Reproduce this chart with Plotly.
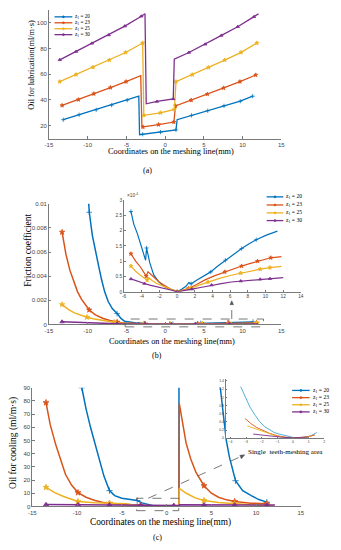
import numpy as np
import plotly.graph_objects as go

W, H = 341, 550

Z_VALUES = [20, 23, 25, 30]
COLORS = ['#0072BD', '#D95319', '#EDB120', '#7E2F8E']
SYMBOLS = ['cross-thin-open', 'star', 'star', 'triangle-up']

# ---------------- (a) Oil for lubrication ----------------
a_x_20 = [-13.15, -11.1, -8.9, -6.9, -4.9, -3.4, -3.3, -2.9, -0.6, 1.4, 1.55, 3.4, 5.5, 7.6, 9.7, 11.3]
a_y_20 = [24.6, 28.5, 32.3, 36.0, 39.8, 43.0, 13.0, 13.3, 15.0, 16.7, 24.6, 28.0, 31.6, 35.4, 39.0, 42.9]
a_mk_20 = [0, 1, 2, 3, 4, 7, 8, 9, 11, 12, 13, 14, 15]

a_x_23 = [-13.3, -11.2, -9.2, -7.06, -5.04, -3.15, -3.0, -2.86, -0.84, 1.13, 1.34, 3.36, 5.46, 7.56, 9.66, 11.7]
a_y_23 = [35.7, 40.2, 44.8, 49.6, 54.2, 58.8, 19.0, 19.0, 20.8, 22.8, 35.4, 39.8, 44.5, 49.3, 54.2, 59.4]
a_mk_23 = [0, 1, 2, 3, 4, 7, 8, 9, 10, 11, 12, 13, 14, 15]

a_x_25 = [-13.6, -11.5, -9.3, -7.2, -5.1, -2.9, -2.75, -0.6, 1.2, 1.4, 3.5, 5.6, 7.7, 9.8, 11.85]
a_y_25 = [54.2, 59.7, 65.4, 71.0, 76.9, 84.3, 28.0, 30.0, 32.6, 54.2, 59.6, 65.2, 71.0, 77.0, 84.3]
a_mk_25 = [0, 1, 2, 3, 4, 5, 6, 7, 8, 9, 10, 11, 12, 13, 14]

a_x_30 = [-13.6, -11.5, -9.45, -7.27, -5.2, -3.07, -2.6, -2.44, -1.05, 1.05, 1.18, 3.07, 5.17, 7.27, 9.37, 11.47, 12.06]
a_y_30 = [71.2, 77.6, 84.0, 90.5, 97.4, 105.1, 107.0, 37.0, 38.8, 40.8, 71.7, 76.9, 83.3, 90.2, 96.9, 104.6, 107.0]
a_mk_30 = [0, 1, 2, 3, 4, 5, 8, 9, 11, 12, 13, 14, 15]

# ---------------- (b) Friction coefficient ----------------
b_x_20 = [-9.87, -9.79, -9.4, -9.0, -8.6, -8.2, -7.8, -7.35, -6.8, -6.2, -5.7,
          -5.23, -4.9, -4.49, -4.1, -3.8, -3.57, -3.46, -3.1, -2.65, -2.1, -1.55, -0.9, -0.25, 0.0,
          0.5, 1.0, 1.33, 1.59, 2.2, 3.0, 3.8, 4.6, 5.46, 6.4, 7.3, 8.1, 8.95, 10.1, 11.35]
b_y_20 = [101e-4, 93e-4, 74e-4, 60e-4, 49e-4, 37e-4, 27e-4, 19e-4, 13e-4, 9e-4, 5e-4,
          2.62e-4, 2.2e-4, 1.89e-4, 1.55e-4, 1.25e-4, 1.03e-4, 1.43e-4, 0.95e-4, 0.55e-4, 0.33e-4, 0.19e-4, 0.09e-4, 0.04e-4, 0.0,
          0.08e-4, 0.18e-4, 0.30e-4, 0.26e-4, 0.38e-4, 0.52e-4, 0.65e-4, 0.84e-4, 1.03e-4, 1.22e-4, 1.41e-4, 1.56e-4, 1.70e-4, 1.85e-4, 1.98e-4]

b_x_23 = [-13.3, -12.8, -12.3, -11.8, -11.3, -10.8, -10.3, -9.8, -9.0, -8.0, -7.1, -6.2, -5.7,
          -5.23, -4.7, -4.15, -3.75, -3.5, -3.3, -3.0, -2.6, -2.0, -1.5, -0.8, 0.0,
          0.6, 1.3, 2.2, 3.1, 4.2, 5.4, 6.4, 7.3, 8.2, 9.1, 10.0, 10.6, 11.8]
b_y_23 = [76.5e-4, 58e-4, 45e-4, 35e-4, 27e-4, 21e-4, 16e-4, 12e-4, 8e-4, 5e-4, 3.3e-4, 2.0e-4, 1.5e-4,
          1.24e-4, 1.0e-4, 0.81e-4, 0.64e-4, 0.51e-4, 0.65e-4, 0.57e-4, 0.46e-4, 0.31e-4, 0.22e-4, 0.10e-4, 0.0,
          0.05e-4, 0.11e-4, 0.24e-4, 0.38e-4, 0.52e-4, 0.65e-4, 0.75e-4, 0.84e-4, 0.92e-4, 1.0e-4, 1.06e-4, 1.11e-4, 1.15e-4]

b_x_25 = [-13.3, -12.5, -11.7, -10.9, -10.1, -9.3, -8.4, -7.5, -6.6, -5.7,
          -5.23, -4.7, -4.15, -3.7, -3.4, -3.2, -2.8, -2.3, -1.7, -1.2, -0.6, 0.0,
          0.7, 1.5, 2.5, 3.5, 4.8, 6.1, 7.2, 8.3, 9.4, 10.5, 11.8]
b_y_25 = [16.5e-4, 12.5e-4, 9.6e-4, 7.6e-4, 6.0e-4, 4.8e-4, 3.6e-4, 2.6e-4, 1.8e-4, 1.1e-4,
          0.84e-4, 0.67e-4, 0.54e-4, 0.45e-4, 0.38e-4, 0.46e-4, 0.36e-4, 0.27e-4, 0.19e-4, 0.14e-4, 0.07e-4, 0.0,
          0.05e-4, 0.11e-4, 0.22e-4, 0.32e-4, 0.44e-4, 0.54e-4, 0.61e-4, 0.68e-4, 0.74e-4, 0.79e-4, 0.83e-4]

b_x_30 = [-13.3, -12.0, -10.5, -9.0, -7.5, -6.2,
          -5.23, -4.5, -3.7, -3.1, -2.6, -1.9, -1.2, -0.6, 0.0,
          0.8, 1.66, 2.8, 3.9, 5.0, 6.1, 7.2, 8.3, 9.4, 10.5, 12.0]
b_y_30 = [2.2e-4, 1.8e-4, 1.4e-4, 1.05e-4, 0.75e-4, 0.55e-4,
          0.42e-4, 0.34e-4, 0.27e-4, 0.22e-4, 0.19e-4, 0.14e-4, 0.10e-4, 0.05e-4, 0.0,
          0.05e-4, 0.09e-4, 0.15e-4, 0.22e-4, 0.27e-4, 0.32e-4, 0.35e-4, 0.38e-4, 0.41e-4, 0.43e-4, 0.46e-4]

b_main_marker_grid = [-13.3, -9.8, -6.2, -2.7, 0.8, 4.3, 7.8, 11.3]
b_inset_marker_grid = [-5.2, -3.45, 0.0, 1.6, 3.6, 5.5, 7.3, 9.1, 10.8]
b_inset_xmin = -5.3

# ---------------- (c) Oil for cooling ----------------
c_x_20 = [-9.47, -9.0, -8.5, -8.0, -7.5, -7.0, -6.38, -5.8, -5.0, -4.2, -3.28, -2.75, -2.1, -1.5, -0.9, 0.0, 0.8, 1.38,
          1.42, 2.5, 3.5, 4.5, 5.0, 5.5, 6.0, 6.67, 7.0, 7.7, 8.5, 9.46, 10.3, 11.2]
c_y_20 = [90, 74, 60, 47, 34, 23, 12, 8.2, 6.2, 5.2, 4.5, 2.7, 1.4, 0.6, 0.25, 0.0, 0.05, 0.4,
          1500, 1000, 600, 330, 217, 140, 90, 50, 38, 19.5, 12, 8.25, 5.2, 3.25]

c_x_23 = [-13.47, -13.0, -12.38, -11.8, -11.29, -10.6, -9.9, -9.0, -8.0, -7.2, -6.38, -5.0, -4.0, -2.9, -2.0, -1.0, 0.0, 0.8, 1.38,
          1.42, 1.8, 2.18, 2.7, 3.27, 4.18, 5.0, 5.8, 6.7, 7.6, 9.4, 11.2]
c_y_23 = [78.75, 62, 46.7, 34, 24.2, 16, 10.5, 7, 4.5, 3.2, 2.25, 1.7, 1.4, 0.6, 0.25, 0.08, 0.0, 0.05, 0.2,
          78, 62, 48, 36, 26, 15.75, 10, 7, 5, 3.75, 2.5, 2.0]

c_x_25 = [-13.47, -12.5, -11.5, -9.9, -8.0, -6.38, -4.5, -2.9, -1.5, 0.0, 0.8, 1.38,
          1.42, 2.2, 3.2, 4.18, 5.8, 7.6, 9.4, 11.2, 12.0]
c_y_25 = [14.5, 10.5, 7.5, 3.75, 2.8, 2.5, 2.0, 0.2, 0.08, 0.0, 0.03, 0.1,
          13.75, 10, 6.5, 4.5, 3.0, 2.0, 1.3, 0.75, 0.6]

c_x_30 = [-13.47, -11.7, -9.9, -8.1, -6.38, -4.6, -2.9, -1.5, 0.0, 0.8, 1.38, 1.42, 2.8, 4.18, 5.9, 7.6, 9.4, 11.2, 12.1]
c_y_30 = [1.4, 1.35, 1.3, 1.25, 1.2, 1.1, 1.0, 0.8, 0.6, 0.7, 0.8, 1.3, 1.25, 1.2, 1.2, 1.15, 1.1, 1.1, 1.05]

c_marker_grid = [-13.47, -9.9, -6.38, -3.1, 0.8, 4.18, 7.65, 11.2]

# inset of (c): single teeth-meshing area
ci_x_20 = [-3.34, -3.0, -2.75, -2.4, -2.12, -1.8, -1.5, -1.2, -0.87, -0.4, 0.0, 0.4, 0.8, 1.2, 1.52]
ci_y_20 = [1.26, 0.98, 0.76, 0.55, 0.40, 0.28, 0.20, 0.14, 0.10, 0.05, 0.02, 0.01, 0.02, 0.07, 0.14]
ci_x_23 = [-3.06, -2.7, -2.34, -1.9, -1.5, -1.0, -0.5, 0.0, 0.5, 1.0, 1.41]
ci_y_23 = [0.48, 0.36, 0.265, 0.18, 0.12, 0.06, 0.025, 0.01, 0.015, 0.04, 0.08]
ci_x_25 = [-2.92, -2.5, -2.12, -1.6, -1.08, -0.5, 0.0, 0.6, 1.2]
ci_y_25 = [0.30, 0.24, 0.185, 0.11, 0.055, 0.02, 0.01, 0.02, 0.05]
ci_x_30 = [-2.54, -2.1, -1.71, -1.2, -0.6, 0.0, 0.5, 1.0]
ci_y_30 = [0.10, 0.08, 0.065, 0.04, 0.02, 0.01, 0.015, 0.03]

# ---------------- layout geometry (pixel boxes: left, right, top, bottom) ----------------
A_BOX = (46, 284, 7, 137)
B_BOX = (46, 284, 203, 325)
BI_BOX = (123, 304, 199, 292)
C_BOX = (29, 304, 389, 509)
CI_BOX = (227, 328, 380, 440)

A_XR, A_YR = [-15, 15], [10, 110]
B_XR, B_YR = [-15, 15], [0, 0.01]
BI_XR, BI_YR = [-6, 14], [0, 3e-4]
C_XR, C_YR = [-15, 15], [0, 90]
CI_XR, CI_YR = [-4.3, 2.0], [0, 1.45]


def xdom(b):
    return [b[0] / W, b[1] / W]


def ydom(b):
    return [1 - b[3] / H, 1 - b[2] / H]


def px(x, y):
    return x / W, 1 - y / H


def d2p(box, xr, yr, xv, yv):
    pxv = box[0] + (xv - xr[0]) / (xr[1] - xr[0]) * (box[1] - box[0])
    pyv = box[3] - (yv - yr[0]) / (yr[1] - yr[0]) * (box[3] - box[2])
    return px(pxv, pyv)


def nearest_idx(xs, grid, tol=0.6):
    xs = np.asarray(xs)
    out = []
    for g in grid:
        i = int(np.argmin(np.abs(xs - g)))
        if abs(xs[i] - g) <= tol and i not in out:
            out.append(i)
    return out


fig = go.Figure()


def add_series(x, y, mk, color, sym, size, xa, ya, width=1.4, markers=True):
    x = np.asarray(x, dtype=float)
    y = np.asarray(y, dtype=float)
    fig.add_trace(go.Scatter(x=x, y=y, mode='lines', line=dict(color=color, width=width),
                             xaxis=xa, yaxis=ya, hoverinfo='skip', showlegend=False))
    if markers and len(mk):
        mk = np.asarray(mk)
        fig.add_trace(go.Scatter(x=x[mk], y=y[mk], mode='markers',
                                 marker=dict(symbol=sym, size=size, color=color,
                                             line=dict(color=color, width=0.8)),
                                 xaxis=xa, yaxis=ya, cliponaxis=True, hoverinfo='skip', showlegend=False))


# (a)
a_sets = [(a_x_20, a_y_20, a_mk_20), (a_x_23, a_y_23, a_mk_23), (a_x_25, a_y_25, a_mk_25), (a_x_30, a_y_30, a_mk_30)]
for i, (x, y, mk) in enumerate(a_sets):
    add_series(x, y, mk, COLORS[i], SYMBOLS[i], 3, 'x', 'y', width=1.3)

# (b) main + inset
b_sets = [(b_x_20, b_y_20), (b_x_23, b_y_23), (b_x_25, b_y_25), (b_x_30, b_y_30)]
for i, (x, y) in enumerate(b_sets):
    add_series(x, y, nearest_idx(x, b_main_marker_grid), COLORS[i], SYMBOLS[i], 4, 'x2', 'y2', width=1.5)
for i, (x, y) in enumerate(b_sets):
    xa = np.asarray(x)
    ya = np.asarray(y)
    keep = xa >= b_inset_xmin
    xs, ys = xa[keep], ya[keep]
    add_series(xs, ys, nearest_idx(xs, b_inset_marker_grid, 0.35), COLORS[i], SYMBOLS[i], 3, 'x3', 'y3', width=1.2)

# (c) main + inset
c_sets = [(c_x_20, c_y_20), (c_x_23, c_y_23), (c_x_25, c_y_25), (c_x_30, c_y_30)]
for i, (x, y) in enumerate(c_sets):
    add_series(x, y, nearest_idx(x, c_marker_grid, 0.5), COLORS[i], SYMBOLS[i], 4.5, 'x4', 'y4', width=1.5)
ci_sets = [(ci_x_20, ci_y_20), (ci_x_23, ci_y_23), (ci_x_25, ci_y_25), (ci_x_30, ci_y_30)]
ci_colors = ['#3FA7D6', COLORS[1], COLORS[2], COLORS[3]]
for i, (x, y) in enumerate(ci_sets):
    add_series(x, y, [], ci_colors[i], SYMBOLS[i], 3, 'x5', 'y5', width=0.9, markers=False)

AX_COL = '#7a7a7a'
TICK_COL = '#444444'


def axis(box, rng, is_x, anchor, fs, tickvals, ticktext=None, ticklen=2.5):
    d = dict(domain=xdom(box) if is_x else ydom(box), range=rng, anchor=anchor,
             showline=True, linecolor=AX_COL, linewidth=0.8, ticks='inside', ticklen=ticklen,
             tickcolor=AX_COL, tickwidth=0.7, showgrid=False, zeroline=False,
             tickfont=dict(family='Liberation Sans', size=fs, color=TICK_COL),
             tickvals=tickvals, fixedrange=True, ticklabelstandoff=0)
    if ticktext is not None:
        d['ticktext'] = ticktext
    return d


xt = [-15, -10, -5, 0, 5, 10, 15]
xtt = ['-15', '-10', '-5', '0', '5', '10', '15']

fig.update_layout(
    width=W, height=H, margin=dict(l=0, r=0, t=0, b=0),
    paper_bgcolor='white', plot_bgcolor='white', showlegend=False,
    xaxis=axis(A_BOX, A_XR, True, 'y', 6, xt, xtt),
    yaxis=axis(A_BOX, A_YR, False, 'x', 6, [20, 40, 60, 80, 100]),
    xaxis2=axis(B_BOX, B_XR, True, 'y2', 6, xt, xtt),
    yaxis2=axis(B_BOX, B_YR, False, 'x2', 6, [0, 0.002, 0.004, 0.006, 0.008, 0.01],
                ['0', '0.002', '0.004', '0.006', '0.008', '0.01']),
    xaxis3=axis(BI_BOX, BI_XR, True, 'y3', 4.8, list(range(-6, 15, 2)), [str(v) for v in range(-6, 15, 2)], 1.5),
    yaxis3=axis(BI_BOX, BI_YR, False, 'x3', 4.8, [0, 0.5e-4, 1e-4, 1.5e-4, 2e-4, 2.5e-4, 3e-4],
                ['0', '0.5', '1', '1.5', '2', '2.5', '3'], 1.5),
    xaxis4=axis(C_BOX, C_XR, True, 'y4', 6, xt, xtt),
    yaxis4=axis(C_BOX, C_YR, False, 'x4', 6, list(range(0, 91, 10))),
    xaxis5=axis(CI_BOX, CI_XR, True, 'y5', 3.5, [-4, -3, -2, -1, 0, 1, 2], None, 1),
    yaxis5=axis(CI_BOX, CI_YR, False, 'x5', 3.5, [0, 0.2, 0.4, 0.6, 0.8, 1.0, 1.2, 1.4], None, 1),
)

SERIF = 'Liberation Serif'
annotations = []
shapes = []


def text(x, y, s, size, angle=0, xanchor='center', color='black', family=SERIF):
    xp, yp = px(x, y)
    annotations.append(dict(x=xp, y=yp, xref='paper', yref='paper', text=s, showarrow=False,
                            font=dict(family=family, size=size, color=color), textangle=angle,
                            xanchor=xanchor, yanchor='middle'))


# axis titles & panel labels
text(171, 150.5, 'Coordinates on the meshing line(mm)', 8.3)
text(28, 62, 'Oil for lubrication(ml/m·s)', 8.3, -90)
text(147, 169, '(a)', 8)
text(172, 342, 'Coordinates on the meshing line(mm)', 8.3)
text(25, 250, 'Friction coefficient', 9.5, -90)
text(157, 356, '(b)', 8)
text(160, 525, 'Coordinates on the meshing line(mm)', 9.3)
text(9, 445, 'Oil for cooling (ml/m·s)', 9.5, -90)
text(157, 540, '(c)', 8)
text(124, 194, '×10<sup>-4</sup>', 4.8, 0, 'left', TICK_COL, 'Liberation Sans')
text(288, 454, 'Single  teeth-meshing area', 7)


# manual legends
def legend(x1, x2, rows, tx, fs):
    for i, yy in enumerate(rows):
        p1 = px(x1, yy)
        p2 = px(x2, yy)
        shapes.append(dict(type='line', xref='paper', yref='paper', x0=p1[0], y0=p1[1], x1=p2[0], y1=p2[1],
                           line=dict(color=COLORS[i], width=1.3)))
        m = (x1 + x2) / 2
        c0 = px(m - 1.1, yy - 1.1)
        c1 = px(m + 1.1, yy + 1.1)
        shapes.append(dict(type='circle', xref='paper', yref='paper', x0=c0[0], y0=c0[1], x1=c1[0], y1=c1[1],
                           fillcolor=COLORS[i], line=dict(color=COLORS[i], width=0.5)))
        text(tx, yy, 'z<sub>1</sub> = %d' % Z_VALUES[i], fs, 0, 'left')


legend(51.7, 70, [14, 20, 26, 32], 71, 5.2)
legend(269, 286, [196, 204.2, 212.2, 220], 287, 5.6)
legend(295, 313, [391.7, 399, 406.2, 413.4], 314, 5.6)

DASH = dict(color='#555555', width=0.8, dash='dash')
ARROW_COL = '#555555'

# (b) dashed zoom box and arrow to inset
b0 = d2p(B_BOX, B_XR, B_YR, -5.15, -0.0002)
b1 = d2p(B_BOX, B_XR, B_YR, 12.7, 0.00045)
shapes.append(dict(type='rect', xref='paper', yref='paper', x0=b0[0], y0=b0[1], x1=b1[0], y1=b1[1], line=DASH))
ba = d2p(B_BOX, B_XR, B_YR, 8.6, 0.00045)
tip_b = px(ba[0] * W, 302)
shapes.append(dict(type='line', xref='paper', yref='paper', x0=ba[0], y0=ba[1], x1=ba[0], y1=tip_b[1], line=DASH))
# small triangular arrow head pointing up
hb = [px(ba[0] * W - 1.8, 305), px(ba[0] * W + 1.8, 305), px(ba[0] * W, 301)]
shapes.append(dict(type='path', xref='paper', yref='paper',
                   path='M %f,%f L %f,%f L %f,%f Z' % (hb[0][0], hb[0][1], hb[1][0], hb[1][1], hb[2][0], hb[2][1]),
                   fillcolor=ARROW_COL, line=dict(color=ARROW_COL, width=0.5)))

# (c) dashed zoom box and line to the inset label
c0 = d2p(C_BOX, C_XR, C_YR, -3.36, -3.2)
c1 = d2p(C_BOX, C_XR, C_YR, 1.36, 6.2)
shapes.append(dict(type='rect', xref='paper', yref='paper', x0=c0[0], y0=c0[1], x1=c1[0], y1=c1[1], line=DASH))
cs = d2p(C_BOX, C_XR, C_YR, -2.06, 6.2)
ce = px(246, 457)
shapes.append(dict(type='line', xref='paper', yref='paper', x0=cs[0], y0=cs[1], x1=ce[0], y1=ce[1], line=DASH))
hc = [px(241.5, 457.3), px(243.1, 460.9), px(246.5, 456.8)]
shapes.append(dict(type='path', xref='paper', yref='paper',
                   path='M %f,%f L %f,%f L %f,%f Z' % (hc[0][0], hc[0][1], hc[1][0], hc[1][1], hc[2][0], hc[2][1]),
                   fillcolor=ARROW_COL, line=dict(color=ARROW_COL, width=0.5)))

fig.update_layout(annotations=annotations, shapes=shapes)
fig.write_html('out.html', config={'displayModeBar': False},
               post_script="document.body.style.margin='0px';document.body.style.overflow='hidden';")
